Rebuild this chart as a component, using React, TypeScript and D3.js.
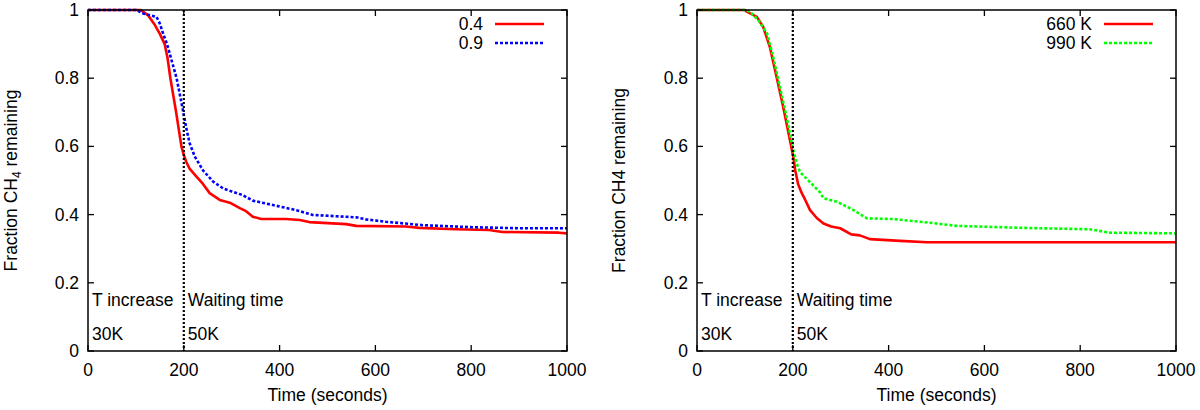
import * as d3 from "d3";

// ── Data ──────────────────────────────────────────────────────
type Pt = [number, number];

// left panel: ratio 0.4 / 0.9
const RATIO_04: Pt[] = [
  [0, 1], [110, 1], [125, 0.985], [140, 0.955], [150, 0.93], [160, 0.9], [166, 0.86],
  [172, 0.8], [184, 0.7], [195, 0.6], [200, 0.575], [205, 0.555], [212, 0.535],
  [226, 0.512], [240, 0.49], [254, 0.463], [275, 0.443], [296, 0.435], [317, 0.419],
  [330, 0.41], [344, 0.394], [362, 0.387], [414, 0.387], [442, 0.384], [462, 0.378],
  [539, 0.372], [560, 0.367], [664, 0.365], [692, 0.361], [768, 0.357], [837, 0.355],
  [865, 0.349], [983, 0.347], [1000, 0.345],
];

const RATIO_09: Pt[] = [
  [0, 1], [100, 1], [115, 0.99], [143, 0.98], [150, 0.96], [157, 0.93], [165, 0.9],
  [175, 0.85], [185, 0.8], [192, 0.75], [199, 0.7], [205, 0.655], [212, 0.61],
  [223, 0.57], [240, 0.53], [261, 0.497], [282, 0.477], [300, 0.468], [323, 0.457],
  [344, 0.441], [386, 0.428], [435, 0.413], [469, 0.399], [560, 0.392], [580, 0.386],
  [622, 0.379], [699, 0.369], [803, 0.363], [900, 0.36], [1000, 0.36],
];

// right panel: 660 K / 990 K
const TEMP_660: Pt[] = [
  [0, 1], [100, 1], [104, 0.995], [125, 0.98], [138, 0.951], [152, 0.892], [166, 0.804],
  [180, 0.716], [194, 0.619], [201, 0.57], [205, 0.53], [211, 0.49], [218, 0.465],
  [226, 0.443], [236, 0.413], [250, 0.39], [264, 0.374], [280, 0.365], [299, 0.36],
  [322, 0.342], [340, 0.339], [361, 0.328], [424, 0.323], [480, 0.319], [1000, 0.319],
];

const TEMP_990: Pt[] = [
  [0, 1], [100, 1], [111, 0.995], [128, 0.97], [146, 0.932], [159, 0.863], [173, 0.775],
  [187, 0.687], [201, 0.589], [208, 0.55], [215, 0.525], [229, 0.505], [257, 0.465],
  [264, 0.448], [278, 0.443], [292, 0.438], [327, 0.413], [355, 0.389], [410, 0.387],
  [452, 0.381], [487, 0.376], [542, 0.367], [681, 0.361], [820, 0.357], [862, 0.347],
  [1000, 0.345],
];

const X_TICKS = [0, 200, 400, 600, 800, 1000];
const Y_TICKS = [0, 0.2, 0.4, 0.6, 0.8, 1];
const Y_TICK_LABELS = ["0", "0.2", "0.4", "0.6", "0.8", "1"];
const SWITCH_T = 200;

// ── Geometry ──────────────────────────────────────────────────
const W = 1200;
const H = 410;
const TOP = 10;
const BOTTOM = 351;
const FONT = "'Liberation Sans', Arial, Helvetica, sans-serif";
const FS = 17.5;

interface Series {
  label: string;
  data: Pt[];
  color: string;
  dash?: string;
}

function Panel({ left, right, series, subscript, titleX }: {
  left: number; right: number; series: Series[]; subscript: boolean; titleX: number;
}) {
  const x = d3.scaleLinear().domain([0, 1000]).range([left, right]);
  const y = d3.scaleLinear().domain([0, 1]).range([BOTTOM, TOP]);
  const line = d3.line<Pt>().x((d) => x(d[0])).y((d) => y(d[1]));
  const midY = (TOP + BOTTOM) / 2;
  const tl = 6;

  return (
    <g fontFamily={FONT} fontSize={FS} fill="#000">
      {/* curves */}
      {series.map((s) => (
        <path key={s.label} d={line(s.data) ?? ""} fill="none" stroke={s.color}
          strokeWidth={2.6} strokeDasharray={s.dash} strokeLinejoin="round" />
      ))}

      {/* switch line at 200 s */}
      <line x1={x(SWITCH_T)} x2={x(SWITCH_T)} y1={TOP} y2={BOTTOM}
        stroke="#000" strokeWidth={2.2} strokeDasharray="2,2" />

      {/* frame */}
      <rect x={left} y={TOP} width={right - left} height={BOTTOM - TOP}
        fill="none" stroke="#000" strokeWidth={1.5} />

      {/* ticks, mirrored */}
      {X_TICKS.map((t) => (
        <g key={`xt-${t}`}>
          <line x1={x(t)} x2={x(t)} y1={BOTTOM} y2={BOTTOM - tl} stroke="#000" strokeWidth={1.3} />
          <line x1={x(t)} x2={x(t)} y1={TOP} y2={TOP + tl} stroke="#000" strokeWidth={1.3} />
          <text x={x(t)} y={376} textAnchor="middle">{t}</text>
        </g>
      ))}
      {Y_TICKS.map((t, i) => (
        <g key={`yt-${t}`}>
          <line x1={left} x2={left + tl} y1={y(t)} y2={y(t)} stroke="#000" strokeWidth={1.3} />
          <line x1={right} x2={right - tl} y1={y(t)} y2={y(t)} stroke="#000" strokeWidth={1.3} />
          <text x={left - 9} y={y(t) + 6} textAnchor="end">{Y_TICK_LABELS[i]}</text>
        </g>
      ))}

      {/* axis titles */}
      <text x={(left + right) / 2} y={401} textAnchor="middle">Time (seconds)</text>
      <text transform={`translate(${titleX},${midY}) rotate(-90)`} textAnchor="middle">
        {subscript ? (
          <>
            <tspan>Fraction CH</tspan>
            <tspan fontSize={12} dy={4}>4</tspan>
            <tspan dy={-4}> remaining</tspan>
          </>
        ) : (
          "Fraction CH4 remaining"
        )}
      </text>

      {/* regime annotations */}
      <text x={left + 4} y={306}>T increase</text>
      <text x={x(SWITCH_T) + 4} y={306}>Waiting time</text>
      <text x={left + 4} y={340}>30K</text>
      <text x={x(SWITCH_T) + 4} y={340}>50K</text>

      {/* legend */}
      {series.map((s, i) => {
        const ly = 24 + i * 19;
        return (
          <g key={`lg-${s.label}`}>
            <text x={right - 84} y={ly + 6} textAnchor="end">{s.label}</text>
            <line x1={right - 72} x2={right - 23} y1={ly} y2={ly}
              stroke={s.color} strokeWidth={2.6} strokeDasharray={s.dash} />
          </g>
        );
      })}
    </g>
  );
}

export default function App() {
  return (
    <div style={{ position: "absolute", left: 0, top: 0, background: "#fff" }}>
      <svg width={W} height={H} viewBox={`0 0 ${W} ${H}`}>
        <rect width={W} height={H} fill="#fff" />
        <Panel left={88} right={567} subscript titleX={17}
          series={[
            { label: "0.4", data: RATIO_04, color: "#ff0000" },
            { label: "0.9", data: RATIO_09, color: "#0000ff", dash: "3,2" },
          ]} />
        <Panel left={697} right={1176} subscript={false} titleX={625}
          series={[
            { label: "660 K", data: TEMP_660, color: "#ff0000" },
            { label: "990 K", data: TEMP_990, color: "#00ff00", dash: "3,2" },
          ]} />
      </svg>
    </div>
  );
}
